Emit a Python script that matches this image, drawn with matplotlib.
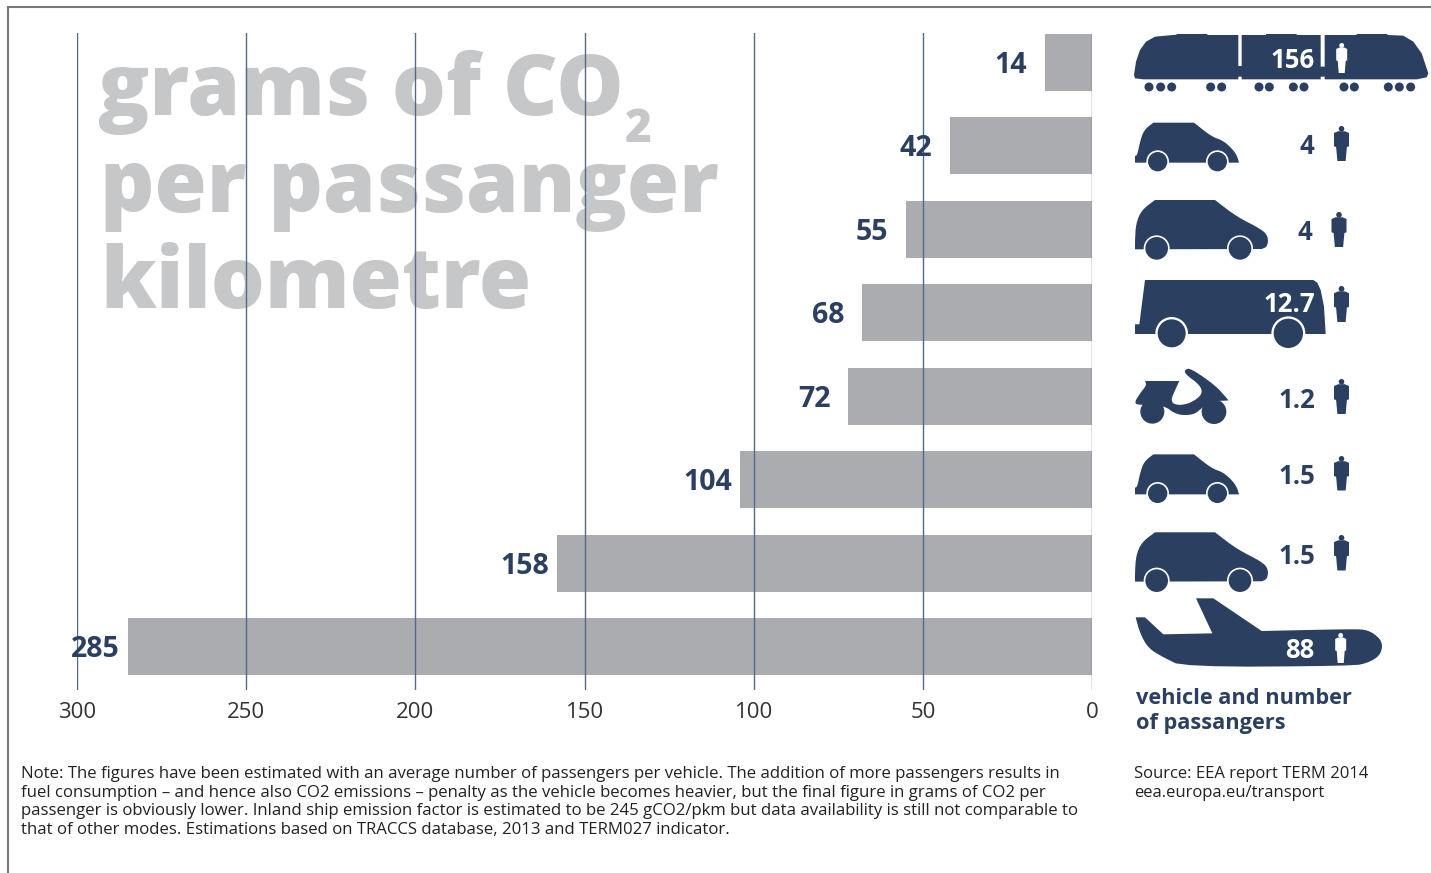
import matplotlib
matplotlib.use("Agg")
import matplotlib.pyplot as plt
from matplotlib.patches import Polygon, Circle

plt.rcParams['font.family'] = ['Open Sans', 'DejaVu Sans']

emissions = [14, 42, 55, 68, 72, 104, 158, 285]
occupancy = ['156', '4', '4', '12.7', '1.2', '1.5', '1.5', '88']
x_ticks = [300, 250, 200, 150, 100, 50, 0]

W, H = 1431, 873
NAVY = '#2b3f60'
BAR = '#abacb0'
TITLE = '#c6c7c9'
fig = plt.figure(figsize=(W / 100, H / 100), dpi=100, facecolor='white')

# background layer in pixel coordinates
bg = fig.add_axes([0, 0, 1, 1], zorder=0)
bg.set_xlim(0, W)
bg.set_ylim(H, 0)
bg.axis('off')

# frame
bg.plot([8, 8, W], [H, 6.5, 6.5], color='#777777', lw=1.5, solid_joinstyle='miter')

# watermark title
for s, x, y in [('grams of CO', 98, 115), ('per passanger', 100, 212), ('kilometre', 100, 308)]:
    bg.text(x, y, s, fontsize=61, fontweight=800, color=TITLE, va='baseline', ha='left')
bg.text(625, 142, '2', fontsize=33, fontweight=800, color=TITLE, va='baseline', ha='left')

# main chart
top, bottom, left, right = 33, 690, 77, 1092
ax = fig.add_axes([left / W, 1 - bottom / H, (right - left) / W, (bottom - top) / H], zorder=1)
ax.patch.set_alpha(0)
step = 83.43
ax.set_xlim(300, 0)
ax.set_ylim((bottom - 62.5) / step, (top - 62.5) / step)
ypos = list(range(len(emissions)))
ax.barh(ypos, emissions, height=0.683, color=BAR, zorder=1)
ax.set_xticks(x_ticks)
ax.set_yticks([])
ax.tick_params(axis='x', length=0, pad=9, labelsize=16, labelcolor='#333333')
for s in ax.spines.values():
    s.set_visible(False)
ax.xaxis.grid(True, color='#4f6b88', lw=1)
ax.set_axisbelow(False)
for v, y in zip(emissions, ypos):
    ax.annotate(str(v), (v, y), xytext=(-12.5 if v < 100 else -6, -2.2), textcoords='offset points',
                ha='right', va='center', fontsize=20.5, fontweight='bold', color=NAVY, zorder=5)

# icon layer in pixel coordinates
ic = fig.add_axes([0, 0, 1, 1], zorder=2)
ic.set_xlim(0, W)
ic.set_ylim(H, 0)
ic.axis('off')
ic.patch.set_alpha(0)


def rounded(points, n=2):
    for _ in range(n):
        out = []
        for i, p in enumerate(points):
            q = points[(i + 1) % len(points)]
            out.append((0.75 * p[0] + 0.25 * q[0], 0.75 * p[1] + 0.25 * q[1]))
            out.append((0.25 * p[0] + 0.75 * q[0], 0.25 * p[1] + 0.75 * q[1]))
        points = out
    return points


def shape(points, ox, oy, dy=0, color=NAVY, z=2, smooth=False):
    pts = rounded(points) if smooth else points
    ic.add_patch(Polygon([(ox + a / 3, oy + b / 3 + dy) for a, b in pts], closed=True,
                         fc=color, ec='none', zorder=z))


def wheel(a, b, r, ox, oy, dy=0, ring=5):
    cx, cy = ox + a / 3, oy + b / 3 + dy
    if ring:
        ic.add_patch(Circle((cx, cy), (r + ring) / 3, fc='white', ec='none', zorder=3))
    ic.add_patch(Circle((cx, cy), r / 3, fc=NAVY, ec='none', zorder=4))


def person(cx, t, b, color=NAVY, hw=7.5):
    h = b - t
    ic.add_patch(Circle((cx, t + 0.08 * h), 0.08 * h, fc=color, ec='none', zorder=5))
    pts = [(-0.45, .15), (.45, .15), (1, .2), (1, .58), (.72, .6), (.55, 1), (-.55, 1),
           (-.72, .6), (-1, .58), (-1, .2)]
    ic.add_patch(Polygon([(cx + p * hw, t + q * h) for p, q in pts], closed=True,
                         fc=color, ec='none', zorder=5))


# train
train = [(42, 165), (48, 125), (60, 90), (78, 65), (105, 50), (170, 44), (170, 42), (262, 42), (262, 45), (355, 45),
         (355, 138), (365, 138), (365, 45), (438, 45), (438, 42), (530, 42), (530, 45), (602, 45), (602, 140),
         (614, 140), (614, 45), (710, 45), (710, 42), (802, 42), (802, 45), (850, 47), (880, 65), (905, 100),
         (925, 160), (920, 172), (890, 178), (614, 178), (614, 170), (602, 170), (602, 178), (365, 178),
         (365, 170), (355, 170), (355, 178), (70, 178), (45, 175)]
shape(train, 1120, 20)
for a in [87, 122, 155, 272, 305, 417, 448, 520, 552, 672, 703, 805, 838, 872]:
    wheel(a, 201, 13.5, 1120, 20, ring=0)

# small car
car = [(45, 428), (45, 428), (45, 408), (45, 408), (52, 405), (60, 365), (72, 330), (100, 308), (100, 308),
       (222, 308), (222, 308), (275, 350), (310, 362), (340, 390), (352, 410), (357, 428), (357, 428)]
for dy in (0, 331.7):
    shape(car, 1120, 20, dy, smooth=True)
    wheel(113, 425, 29, 1120, 20, dy)
    wheel(292, 425, 29, 1120, 20, dy)

# large car
mpv = [(45, 688), (45, 688), (45, 660), (48, 610), (65, 570), (105, 540), (105, 540), (285, 540), (285, 540),
       (350, 590), (425, 628), (445, 650), (442, 680), (425, 687), (425, 687)]
for dy in (0, 332.3):
    shape(mpv, 1120, 20, dy, smooth=True)
    wheel(110, 685, 34, 1120, 20, dy)
    wheel(360, 685, 34, 1120, 20, dy)

# bus
bus = [(45, 192), (45, 163), (58, 163), (75, 30), (580, 30), (592, 38), (602, 60), (612, 110), (617, 192)]
shape(bus, 1120, 270)
wheel(155, 190, 42, 1120, 270, ring=7)
wheel(505, 190, 44, 1120, 270, ring=7)

# scooter
scooter = [(75, 333), (75, 333), (178, 333), (178, 333), (170, 350), (150, 395), (175, 407), (215, 398), (248, 372),
           (240, 345), (195, 312), (195, 298), (212, 295), (285, 345), (325, 390), (325, 392), (270, 393), (245, 415),
           (220, 435), (170, 435), (130, 405), (60, 405), (42, 400), (60, 370), (80, 345)]
shape(scooter, 1120, 270, smooth=True)
wheel(97, 425, 36, 1120, 270, ring=0)
wheel(282, 425, 37, 1120, 270, ring=0)

# plane
plane = [(47, 352), (47, 352), (75, 352), (75, 352), (130, 403), (130, 403), (277, 400), (277, 400), (228, 295), (228, 295),
         (280, 295), (280, 295), (425, 393), (425, 393), (700, 387), (745, 390), (780, 415), (788, 440), (778, 468), (745, 488),
         (700, 498), (190, 501), (130, 472), (85, 445), (60, 400)]
shape(plane, 1120, 500, smooth=True)

# occupancy labels
label_xy = [(1293, 60, 'white'), (1307, 146, NAVY), (1305, 232, NAVY), (1289, 305, 'white'),
            (1297, 401, NAVY), (1297, 476, NAVY), (1297, 556, NAVY), (1300, 650, 'white')]
for s, (x, y, c) in zip(occupancy, label_xy):
    ic.text(x, y, s, ha='center', va='center', fontsize=18.5, fontweight='bold', color=c, zorder=6)

person(1341.7, 43, 73, 'white', 5.5)
person(1341.5, 126, 161)
person(1339, 212, 247)
person(1341.5, 286, 322)
person(1341.5, 379, 414)
person(1341.5, 456, 490.5)
person(1341.5, 535, 570.5)
person(1340.7, 633, 663, 'white', 5.5)

# captions
for y, s in [(699, 'vehicle and number'), (724, 'of passangers')]:
    ic.text(1136, y, s, fontsize=15.7, fontweight='bold', color=NAVY, va='center', ha='left')
notes = ['Note: The figures have been estimated with an average number of passengers per vehicle. The addition of more passengers results in',
         'fuel consumption \u2013 and hence also CO2 emissions \u2013 penalty as the vehicle becomes heavier, but the final figure in grams of CO2 per',
         'passenger is obviously lower. Inland ship emission factor is estimated to be 245 gCO2/pkm but data availability is still not comparable to',
         'that of other modes. Estimations based on TRACCS database, 2013 and TERM027 indicator.']
for y, s in zip([774, 793, 811, 830], notes):
    ic.text(21, y, s, fontsize=12.05, color='#222222', va='center', ha='left')
for y, s in [(774, 'Source: EEA report TERM 2014'), (793, 'eea.europa.eu/transport')]:
    ic.text(1134, y, s, fontsize=12, color='#222222', va='center', ha='left')

fig.savefig('out.png', dpi=100, facecolor='white')
